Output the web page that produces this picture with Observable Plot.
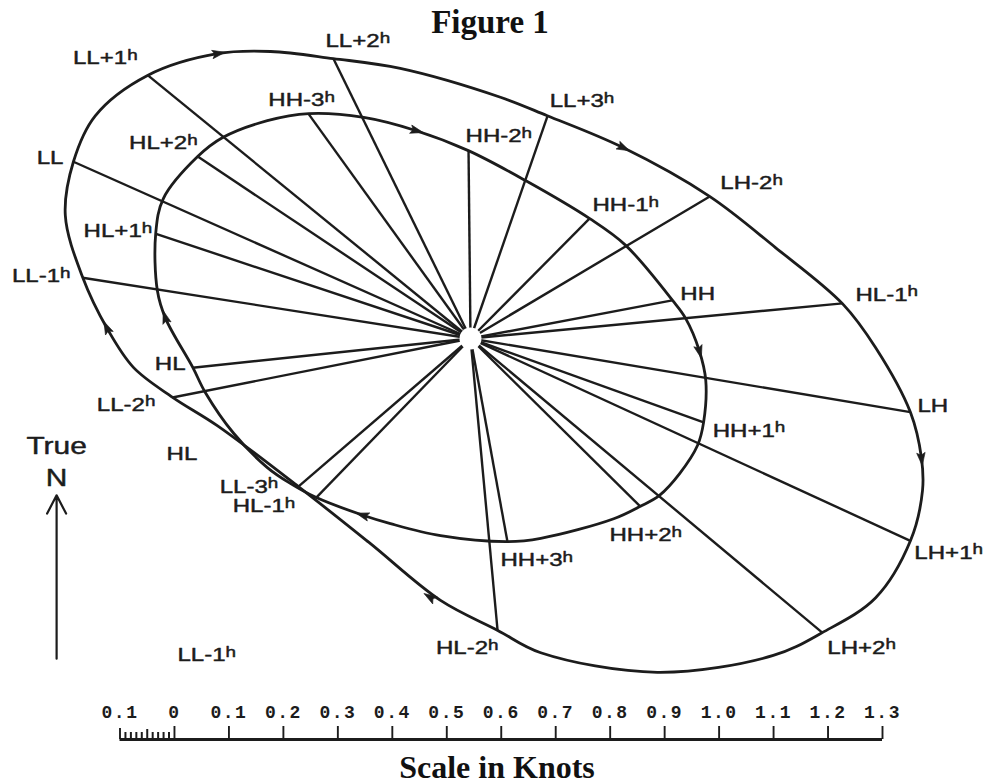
<!DOCTYPE html>
<html><head><meta charset="utf-8">
<script src="https://cdn.jsdelivr.net/npm/d3@7"></script>
<script src="https://cdn.jsdelivr.net/npm/@observablehq/plot@0.6"></script>
<style>
html,body{margin:0;padding:0;background:#fff;width:984px;height:784px;overflow:hidden;}
#title,#caption{position:relative;width:984px;}
#title{height:28px;}
#caption{height:32px;}
#title span,#caption span{position:absolute;width:984px;text-align:center;font:bold 33px "Liberation Serif",serif;line-height:28px;color:#111;white-space:nowrap;}
#title span{top:8px;left:-2px;}
#caption span{top:1px;left:5px;font-size:32px;}
svg{display:block;}
</style></head>
<body>
<div id="title"><span>Figure 1</span></div>
<div id="chart"></div>
<div id="scale"></div>
<div id="caption"><span>Scale in Knots</span></div>
<script>
// ---------------- data (knots, degrees true) ----------------
const outerLabels = ["LL","LL+1h","LL+2h","LL+3h","LH-2h","HL-1h","LH","LH+1h","LH+2h","HL-2h","LL-3h","LL-2h","LL-1h"];
const outerSpeed  = [0.798,0.765,0.572,0.433,0.510,0.686,0.819,0.889,0.842,0.538,0.417,0.558,0.721];
const outerDir    = [294.0,309.2,333.9,19.1,59.3,84.6,99.5,114.7,129.9,174.7,229.3,258.8,278.9];

const innerLabels = ["HL+2h","HH-3h","HH-2h","HH-1h","HH","HH+1h","HH+2h","HH+3h","HL-1h","HL","HL+1h"];
const innerSpeed  = [0.602,0.509,0.345,0.310,0.377,0.455,0.439,0.379,0.407,0.513,0.610];
const innerDir    = [303.7,324.2,359.4,44.8,79.3,109.8,134.7,169.7,224.1,264.0,288.4];

// traced current curves (east, north components in knots)
const outerTraceE = [-0.729,-0.689,-0.593,-0.465,-0.367,-0.252,-0.129,0.055,0.141,0.279,0.439,0.560,0.683,0.744,0.808,0.828,0.830,0.808,0.744,0.646,0.556,0.343,0.129,0.050,-0.055,-0.187,-0.316,-0.465,-0.547,-0.619,-0.667,-0.712,-0.744];
const outerTraceN = [0.325,0.409,0.483,0.523,0.527,0.514,0.496,0.443,0.409,0.351,0.261,0.167,0.064,-0.017,-0.136,-0.219,-0.279,-0.371,-0.476,-0.540,-0.582,-0.613,-0.577,-0.536,-0.481,-0.374,-0.272,-0.160,-0.108,-0.053,0.018,0.112,0.226];
const innerTraceE = [-0.501,-0.455,-0.373,-0.297,-0.196,-0.101,-0.004,0.101,0.219,0.285,0.371,0.395,0.420,0.432,0.428,0.417,0.384,0.347,0.312,0.263,0.129,0.068,-0.055,-0.147,-0.196,-0.283,-0.331,-0.373,-0.435,-0.487,-0.510,-0.560,-0.575,-0.578,-0.564];
const innerTraceN = [0.334,0.369,0.400,0.413,0.406,0.382,0.345,0.290,0.220,0.171,0.070,0.037,-0.022,-0.077,-0.154,-0.196,-0.248,-0.288,-0.308,-0.331,-0.367,-0.373,-0.362,-0.340,-0.325,-0.292,-0.266,-0.237,-0.174,-0.099,-0.053,0.037,0.088,0.193,0.257];

// direction-of-rotation arrowheads on the curves
const arrowE = [-0.465,0.279,0.828,-0.073,-0.667,-0.101,0.420,-0.196,-0.560];
const arrowN = [0.523,0.351,-0.219,-0.476,0.018,0.382,-0.022,-0.325,0.037];
const arrowHeading = [80,116,174,302,335,105,165,287,343];

// loose annotations
const noteText = ["HL","LL-1h"];
const noteE = [-0.558,-0.538];
const noteN = [-0.212,-0.582];
const northText = ["True","N"];
const northE = -0.760;
const northN = [-0.198,-0.257];
const northArrowN = [-0.588,-0.288];

// scale bar
const scaleTicks = [-0.1,0,0.1,0.2,0.3,0.4,0.5,0.6,0.7,0.8,0.9,1.0,1.1,1.2,1.3];
const scaleTickLabels = ["0.1","0","0.1","0.2","0.3","0.4","0.5","0.6","0.7","0.8","0.9","1.0","1.1","1.2","1.3"];
const minorTicks = [-0.09,-0.08,-0.07,-0.06,-0.05,-0.04,-0.03,-0.02,-0.01];

// ---------------- layout ----------------
const K = 544.6;            // pixels per knot (same as scale bar)
const W = 984, H = 662;     // main svg
const CX = 470, CY = 310;   // ellipse origin in svg pixels
const INK = "#1c1c1c";
// label placement: [anchor, dx px, dy px]
const outerPlace = [["end",-10,-4],["end",-10,-17],["start",-8,-17.5],["start",2,-14.5],["start",11,-13.5],["start",13,-8.5],["start",7,-6.5],["start",4,12],["start",5,15],["end",1,18],["end",-20,0],["end",-17,7.5],["end",-12,-1.5]];
const innerPlace = [["end",0,-13.5],["start",-40,-13.5],["start",-3,-14.5],["start",3,-13.5],["start",8,-6.5],["start",9,8.5],["start",-31,28.5],["start",-7,19],["end",-21,8.5],["end",-7,-3.5],["end",-3,-2.5]];

const rad = Math.PI/180;
const vectors = [
  ...outerLabels.map((label,i)=>({ring:"outer",label,speed:outerSpeed[i],dir:outerDir[i],place:outerPlace[i]})),
  ...innerLabels.map((label,i)=>({ring:"inner",label,speed:innerSpeed[i],dir:innerDir[i],place:innerPlace[i]}))
];
vectors.forEach(v=>{v.e=v.speed*Math.sin(v.dir*rad); v.n=v.speed*Math.cos(v.dir*rad);});
const outerTrace = outerTraceE.map((e,i)=>({e,n:outerTraceN[i]}));
const innerTrace = innerTraceE.map((e,i)=>({e,n:innerTraceN[i]}));
const arrows = arrowE.map((e,i)=>({e,n:arrowN[i],heading:arrowHeading[i]}));
const notes = noteText.map((t,i)=>({t,e:noteE[i],n:noteN[i]}));
const north = northText.map((t,i)=>({t,e:northE,n:northN[i]}));

const dart = {draw(ctx,size){const r=Math.sqrt(size/Math.PI);
  ctx.moveTo(0,-1.6*r);ctx.lineTo(0.85*r,1.0*r);ctx.lineTo(0,0.5*r);ctx.lineTo(-0.85*r,1.0*r);ctx.closePath();}};

const labelFont = {fontFamily:"Liberation Sans, Arial, sans-serif", fontSize:18.5, fill:INK, stroke:INK, strokeWidth:0.45};

const main = Plot.plot({
  width:W, height:H, margin:0,
  x:{domain:[-CX/K,(W-CX)/K], axis:null},
  y:{domain:[-(H-CY)/K, CY/K], axis:null},
  style:{background:"white", overflow:"visible"},
  marks:[
    Plot.link(vectors,{x1:()=>0,y1:()=>0,x2:"e",y2:"n",stroke:INK,strokeWidth:2.4}),
    Plot.line(outerTrace,{x:"e",y:"n",curve:"catmull-rom-closed",stroke:INK,strokeWidth:2.8}),
    Plot.line(innerTrace,{x:"e",y:"n",curve:"catmull-rom-closed",stroke:INK,strokeWidth:2.8}),
    Plot.dot([{e:0,n:0}],{x:"e",y:"n",r:11,fill:"white",stroke:"none"}),
    Plot.dot(arrows,{x:"e",y:"n",rotate:"heading",symbol:dart,r:5,fill:INK,stroke:INK,strokeWidth:0.6}),
    ...["start","end"].map(a=>Plot.text(vectors.filter(v=>v.place[0]===a),{
      x:v=>v.e+v.place[1]/K, y:v=>v.n-v.place[2]/K, text:"label", textAnchor:a, ...labelFont})),
    Plot.text(notes,{x:"e",y:"n",text:"t",textAnchor:"start",...labelFont}),
    Plot.text(north,{x:"e",y:"n",text:"t",textAnchor:"middle",...labelFont,fontSize:23}),
    Plot.arrow([{}],{x1:()=>northE,x2:()=>northE,y1:()=>northArrowN[0],y2:()=>northArrowN[1],
      stroke:INK,strokeWidth:2.2,headLength:14,headAngle:55})
  ]
});
document.getElementById("chart").append(main);

// superscript "h" and wide lettering as in the original drawing
main.querySelectorAll("text").forEach(t=>{
  const s=t.textContent, m=s.match(/^(.*\d)h$/);
  if(m){
    t.textContent=m[1];
    const ts=document.createElementNS("http://www.w3.org/2000/svg","tspan");
    ts.setAttribute("font-size","14.5");
    ts.setAttribute("dy","-4.5");
    ts.textContent="h";
    t.appendChild(ts);
  }
  const w=t.getComputedTextLength();
  t.setAttribute("textLength",(w*1.3).toFixed(1));
  t.setAttribute("lengthAdjust","spacingAndGlyphs");
});

const scale = Plot.plot({
  width:W, height:62, margin:0,
  x:{domain:[-0.1,1.3], range:[119.5,882], axis:null},
  y:{domain:[-13,49], range:[62,0], axis:null},
  style:{background:"white", overflow:"visible"},
  marks:[
    Plot.ruleY([0],{x1:()=>-0.1,x2:()=>1.3,stroke:INK,strokeWidth:2.8}),
    Plot.ruleX(scaleTicks,{y1:()=>0,y2:d=>d<0?11:13,stroke:INK,strokeWidth:1.9}),
    Plot.ruleX(minorTicks,{y1:()=>0,y2:d=>Math.abs(d+0.05)<1e-9?10:7,stroke:INK,strokeWidth:2}),
    Plot.text(scaleTicks,{x:d=>d,y:()=>27,text:(d,i)=>scaleTickLabels[i],
      fontFamily:"Liberation Mono, monospace",fontWeight:"bold",fontSize:18,fill:INK,
      style:"letter-spacing:1px"})
  ]
});
document.getElementById("scale").append(scale);
scale.querySelectorAll("text").forEach(t=>t.setAttribute("letter-spacing","1.5"));
</script>
</body></html>
